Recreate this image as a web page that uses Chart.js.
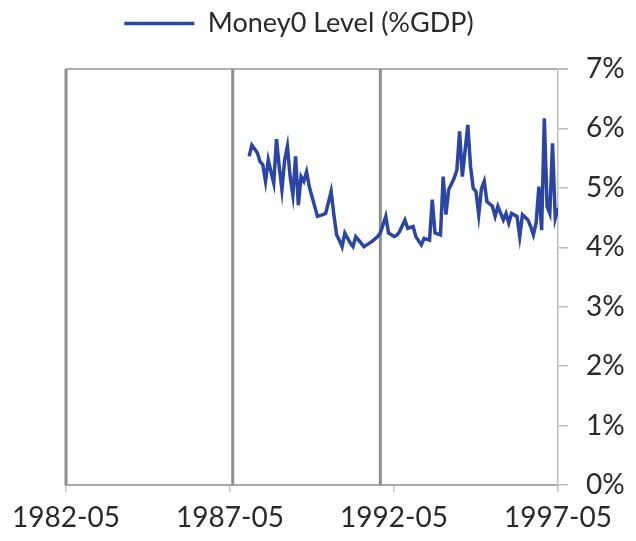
<!DOCTYPE html>
<html><head><meta charset="utf-8">
<script src="https://cdn.jsdelivr.net/npm/chart.js@4.4.0/dist/chart.umd.min.js"></script>
<style>html,body{margin:0;padding:0;background:#fff}#wrap{width:636px;height:541px}</style>
</head><body><div id="wrap"><canvas id="c" width="636" height="541"></canvas></div>
<script>
const dates = ['1987-12','1988-01','1988-03','1988-04','1988-05','1988-06','1988-07','1988-08','1988-09','1988-10','1988-11','1988-12',
'1989-01','1989-02','1989-03','1989-04','1989-05','1989-06','1989-07','1989-08','1989-09','1989-10',
'1990-01','1990-03','1990-04','1990-06','1990-07','1990-08','1990-09','1990-10','1990-11',
'1991-01','1991-02','1991-03','1991-05','1991-06','1991-08','1991-09','1991-11','1991-12',
'1992-02','1992-03','1992-05','1992-06','1992-07','1992-09','1992-10','1992-12',
'1993-01','1993-03','1993-04','1993-06','1993-07','1993-08','1993-10','1993-11','1993-12',
'1994-01','1994-03','1994-04','1994-05','1994-06','1994-08','1994-09','1994-10','1994-11','1994-12',
'1995-01','1995-02','1995-03','1995-05','1995-06','1995-07','1995-09','1995-10','1995-11','1995-12',
'1996-02','1996-03','1996-04','1996-06','1996-07','1996-08','1996-09','1996-10','1996-11','1996-12',
'1997-01','1997-02','1997-03','1997-04','1997-05'];
const money0 = [5.53,5.72,5.59,5.44,5.39,5.11,5.47,5.27,5.08,5.82,5.36,4.97,
5.47,5.70,5.19,4.88,5.53,4.71,5.19,5.11,5.27,5.02,
4.52,4.55,4.57,4.94,4.55,4.21,4.12,4.01,4.24,
4.07,4.01,4.18,4.07,4.01,4.07,4.10,4.18,4.24,
4.52,4.24,4.18,4.20,4.26,4.46,4.32,4.35,
4.18,4.04,4.15,4.12,4.80,4.24,4.21,5.19,4.55,
4.97,5.16,5.30,5.95,5.19,6.06,5.36,4.99,4.94,4.55,
4.99,5.11,4.77,4.69,4.52,4.69,4.46,4.57,4.41,4.57,
4.52,4.18,4.55,4.46,4.35,4.21,4.41,5.02,4.29,6.17,
4.69,4.57,5.75,4.49,4.66];
const markerDates = ['1982-05','1987-06','1991-12'];
const xTickLabels = ['1982-05','1987-05','1992-05','1997-05'];
const yMin = 0, yMax = 7;
const seriesName = 'Money0 Level (%GDP)';

function mi(s){ const p = s.split('-').map(Number); return (p[0]-1982)*12 + (p[1]-5); }
const xMin = mi(xTickLabels[0]), xMax = mi(xTickLabels[xTickLabels.length-1]);

const datasets = [{
  label: seriesName,
  data: dates.map((d,i)=>({x: mi(d), y: money0[i]})),
  borderColor: '#2b45a6', backgroundColor: '#2b45a6',
  borderWidth: 3.5, pointRadius: 0, tension: 0, borderJoinStyle: 'miter'
}];
markerDates.forEach(d => datasets.push({
  label: 'marker', data: [{x: mi(d), y: yMin}, {x: mi(d), y: yMax}],
  borderColor: '#8e8e8e', borderWidth: 3, pointRadius: 0, clip: false
}));

const legendPad = {
  id:'legendPad',
  beforeInit(chart){ const f = chart.legend.fit; chart.legend.fit = function(){ f.call(this); this.height += 22; }; },
  afterLayout(chart){ chart.legend.right -= 104; }
};

new Chart(document.getElementById('c'), {
  type: 'line',
  data: { datasets },
  plugins: [legendPad],
  options: {
    responsive: false, animation: false, devicePixelRatio: 1,
    layout: { padding: { left: 66, right: 0, top: 0, bottom: 0 } },
    plugins: {
      tooltip: { enabled: false },
      legend: {
        position: 'top', align: 'center',
        labels: {
          filter: it => it.datasetIndex === 0,
          usePointStyle: true, pointStyle: 'line', pointStyleWidth: 70,
          color: '#2a2a2a', font: { family: 'Lato', size: 27 }, padding: 10
        }
      }
    },
    scales: {
      x: {
        type: 'linear', min: xMin, max: xMax,
        afterFit: s => { s.height = 56; },
        afterBuildTicks: s => { s.ticks = xTickLabels.map(l => ({value: mi(l)})); },
        ticks: { autoSkip: false, maxRotation: 0, padding: 9, color: '#2a2a2a', font: { family: 'Lato', size: 28 },
          callback: v => { const i = xTickLabels.findIndex(l => mi(l) === v); return i >= 0 ? xTickLabels[i] : ''; } },
        grid: { drawOnChartArea: false, drawTicks: true, tickLength: 7, tickColor: '#c4c4c4', lineWidth: 1.5 },
        border: { color: '#a9a9a9', width: 2 }
      },
      y: {
        position: 'right', min: yMin, max: yMax,
        afterFit: s => { s.width = 78; },
        ticks: { stepSize: 1, padding: 18, color: '#2a2a2a', font: { family: 'Lato', size: 28 }, callback: v => v + '%' },
        grid: { drawOnChartArea: true, tickLength: 10, tickColor: '#bdbdbd',
          color: c => (c.tick && c.tick.value === yMax) ? '#b0b0b0' : 'rgba(0,0,0,0)',
          lineWidth: c => (c.tick && c.tick.value === yMax) ? 2 : 1.5 },
        border: { color: '#bdbdbd', width: 1.5 }
      }
    }
  }
});
</script></body></html>
